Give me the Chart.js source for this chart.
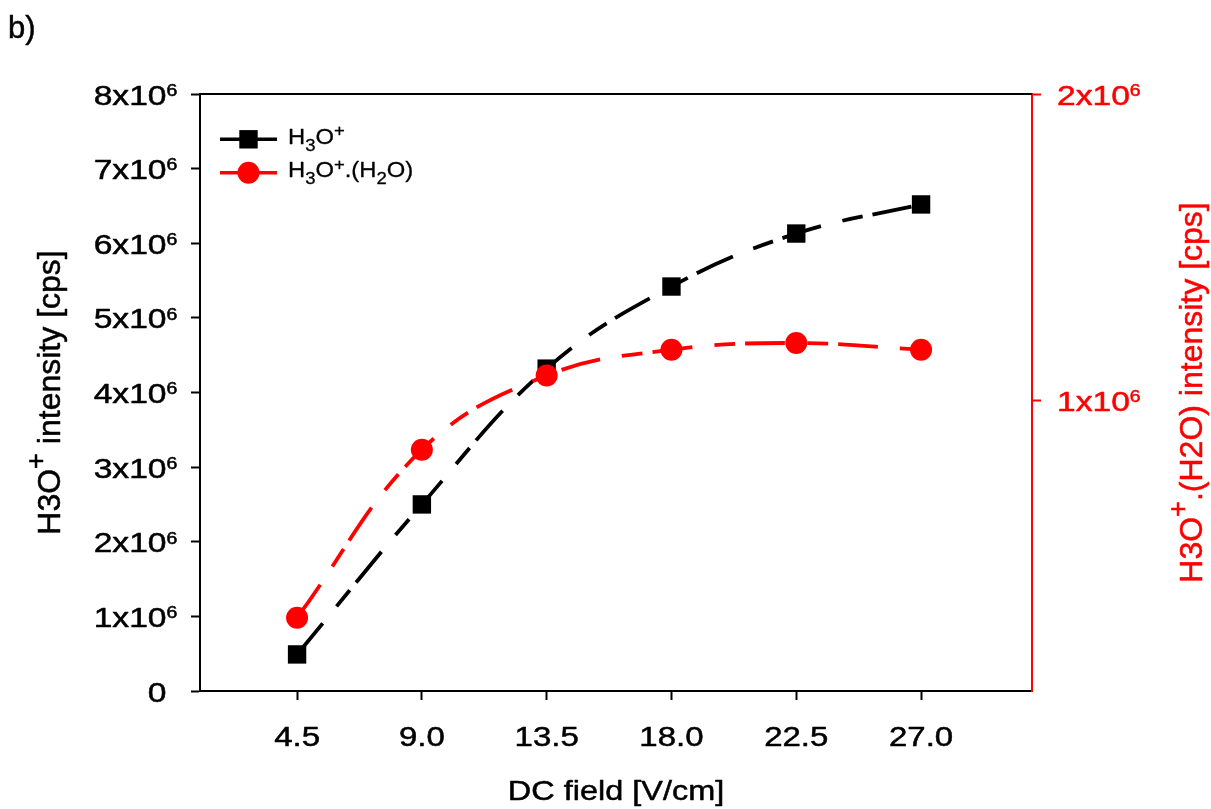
<!DOCTYPE html>
<html>
<head>
<meta charset="utf-8">
<title>H3O+ intensity vs DC field</title>
<script src="https://cdn.jsdelivr.net/npm/chart.js@4.4.1/dist/chart.umd.min.js"></script>
<style>
  html, body { margin: 0; padding: 0; background: #fff; }
</style>
</head>
<body>
<canvas id="chart" width="1211" height="809"></canvas>
<script>
// DC field [V/cm] and its tick labels
const dcField = [4.5, 9.0, 13.5, 18.0, 22.5, 27.0];
const xTickLabels = ['4.5', '9.0', '13.5', '18.0', '22.5', '27.0'];

// H3O+ intensity [cps] (left axis)
const h3oIntensity = [0.49e6, 2.50e6, 4.32e6, 5.42e6, 6.13e6, 6.52e6];
// H3O+.(H2O) intensity [cps] (right axis)
const hydrateIntensity = [0.292e6, 0.840e6, 1.082e6, 1.166e6, 1.188e6, 1.166e6];

// axis ticks, '^' marks a superscript char, '_' a subscript char
const leftTicks = [0, 1e6, 2e6, 3e6, 4e6, 5e6, 6e6, 7e6, 8e6];
const leftTickLabels = ['0', '1x10^6', '2x10^6', '3x10^6', '4x10^6', '5x10^6', '6x10^6', '7x10^6', '8x10^6'];
const rightTicks = [1e6, 2e6];
const rightTickLabels = ['1x10^6', '2x10^6'];

const FONT = '"Liberation Sans", Arial, Helvetica, sans-serif';
const frame = { top: 94, bottom: 691, left: 200, right: 1032 };

// draw text with simple super/subscripts
function richText(ctx, str, x, y, o) {
  const size = o.size, small = o.small || 0.6, sx = o.sx || 1;
  const parts = [];
  for (let i = 0; i < str.length; i++) {
    const c = str[i];
    if ((c === '^' || c === '_') && i + 1 < str.length) parts.push({ t: str[++i], k: c });
    else parts.push({ t: c, k: '' });
  }
  let total = 0, mainEnd = 0;
  parts.forEach(p => {
    ctx.font = (p.k ? size * small : size) + 'px ' + FONT;
    p.w = ctx.measureText(p.t).width;
    total += p.w;
    if (!p.k) mainEnd = total;
  });
  let start = 0;
  if (o.align === 'center') start = -total / 2;
  else if (o.align === 'right') start = -mainEnd;

  ctx.save();
  ctx.translate(x, y);
  if (o.rot) ctx.rotate(o.rot);
  ctx.scale(sx, 1);
  ctx.fillStyle = o.color || '#000';
  ctx.strokeStyle = o.color || '#000';
  ctx.lineWidth = o.bold || 0.5;
  ctx.lineJoin = 'round';
  ctx.textBaseline = 'alphabetic';
  ctx.textAlign = 'left';
  let cx = start;
  parts.forEach(p => {
    ctx.font = (p.k ? size * small : size) + 'px ' + FONT;
    let dy = 0;
    if (p.k === '^') dy = -size * (o.up || 0.32);
    if (p.k === '_') dy = size * (o.down || 0.25);
    ctx.fillText(p.t, cx, dy);
    ctx.strokeText(p.t, cx, dy); // a bit heavier, like the original export
    cx += p.w;
  });
  ctx.restore();
}

const decor = {
  id: 'decor',
  afterDraw(chart) {
    const ctx = chart.ctx;
    const xs = chart.scales.x, ys = chart.scales.y, ys2 = chart.scales.y2;
    const area = chart.chartArea;

    // top frame line
    ctx.save();
    ctx.strokeStyle = '#000';
    ctx.lineWidth = 2;
    ctx.beginPath();
    ctx.moveTo(area.left, area.top);
    ctx.lineTo(area.right, area.top);
    ctx.stroke();
    ctx.restore();

    // tick labels
    leftTicks.forEach((v, i) => {
      richText(ctx, leftTickLabels[i], area.left - 33.5, ys.getPixelForValue(v) + 10.5,
        { size: 28, small: 0.58, up: 0.31, sx: 1.2, align: 'right' });
    });
    rightTicks.forEach((v, i) => {
      richText(ctx, rightTickLabels[i], area.right + 25, ys2.getPixelForValue(v) + 10.5,
        { size: 28, small: 0.58, up: 0.31, sx: 1.2, align: 'left', color: '#ff0000' });
    });
    dcField.forEach((v, i) => {
      richText(ctx, xTickLabels[i], xs.getPixelForValue(v), 746,
        { size: 27.5, sx: 1.2, align: 'center' });
    });

    // axis titles
    richText(ctx, 'DC field [V/cm]', (area.left + area.right) / 2, 800,
      { size: 27.5, sx: 1.18, align: 'center' });
    const midY = (area.top + area.bottom) / 2;
    richText(ctx, 'H3O^+ intensity [cps]', 60, midY,
      { size: 32, small: 0.85, up: 0.47, align: 'center', rot: -Math.PI / 2 });
    richText(ctx, 'H3O^+.(H2O) intensity [cps]', 1202, midY,
      { size: 32, small: 0.85, up: 0.47, align: 'center', rot: -Math.PI / 2, color: '#ff0000' });

    // panel label
    richText(ctx, 'b)', 8, 38, { size: 31, align: 'left' });

    // legend
    const rows = [
      { y: 139.3, color: '#000', shape: 'rect', text: 'H_3O^+' },
      { y: 172.7, color: '#ff0000', shape: 'circle', text: 'H_3O^+.(H_2O)' }
    ];
    rows.forEach(r => {
      ctx.save();
      ctx.strokeStyle = r.color;
      ctx.fillStyle = r.color;
      ctx.lineWidth = 3.5;
      ctx.beginPath();
      ctx.moveTo(220, r.y);
      ctx.lineTo(277, r.y);
      ctx.stroke();
      if (r.shape === 'rect') {
        ctx.fillRect(248.5 - 9.2, r.y - 9.2, 18.4, 18.4);
      } else {
        ctx.beginPath();
        ctx.arc(248.5, r.y, 11, 0, Math.PI * 2);
        ctx.fill();
      }
      ctx.restore();
      richText(ctx, r.text, 288, r.y + 4.5, { size: 22, small: 0.78, up: 0.34, down: 0.32, sx: 1.08, align: 'left', bold: 0.3 });
    });
  }
};

const dash = [40, 22, 21, 10];

new Chart(document.getElementById('chart'), {
  type: 'line',
  data: {
    datasets: [
      {
        label: 'H3O+',
        data: dcField.map((x, i) => ({ x: x, y: h3oIntensity[i] })),
        yAxisID: 'y',
        borderColor: '#000',
        backgroundColor: '#000',
        borderWidth: 3.8,
        borderDash: dash,
        borderCapStyle: 'butt',
        pointStyle: 'rect',
        pointRadius: 13,
        pointBorderWidth: 0,
        tension: 0.4,
        order: 1
      },
      {
        label: 'H3O+.(H2O)',
        data: dcField.map((x, i) => ({ x: x, y: hydrateIntensity[i] })),
        yAxisID: 'y2',
        borderColor: '#ff0000',
        backgroundColor: '#ff0000',
        borderWidth: 3.8,
        borderDash: dash,
        borderCapStyle: 'butt',
        pointStyle: 'circle',
        pointRadius: 11,
        pointBorderWidth: 0,
        tension: 0.4,
        order: 0
      }
    ]
  },
  options: {
    responsive: false,
    animation: false,
    devicePixelRatio: 1,
    layout: { padding: { top: frame.top, left: 0, right: 0, bottom: 0 } },
    plugins: { legend: { display: false }, tooltip: { enabled: false } },
    scales: {
      x: {
        type: 'linear',
        position: 'bottom',
        min: 1,
        max: 31,
        afterBuildTicks: s => { s.ticks = dcField.map(v => ({ value: v })); },
        afterFit: s => { s.height = 809 - frame.bottom; },
        ticks: { display: false },
        grid: { drawOnChartArea: false, drawTicks: true, tickLength: 9, tickWidth: 2, color: '#000' },
        border: { color: '#000', width: 2 }
      },
      y: {
        type: 'linear',
        position: 'left',
        min: 0,
        max: 8e6,
        afterBuildTicks: s => { s.ticks = leftTicks.map(v => ({ value: v })); },
        afterFit: s => { s.width = frame.left; },
        ticks: { display: false },
        grid: { drawOnChartArea: false, drawTicks: true, tickLength: 9, tickWidth: 2, color: '#000' },
        border: { color: '#000', width: 2 }
      },
      y2: {
        type: 'linear',
        position: 'right',
        min: 53000,
        max: 2e6,
        afterBuildTicks: s => { s.ticks = rightTicks.map(v => ({ value: v })); },
        afterFit: s => { s.width = 1211 - frame.right; },
        ticks: { display: false },
        grid: { drawOnChartArea: false, drawTicks: true, tickLength: 9, tickWidth: 2, color: '#ff0000' },
        border: { color: '#ff0000', width: 2 }
      }
    }
  },
  plugins: [decor]
});
</script>
</body>
</html>
